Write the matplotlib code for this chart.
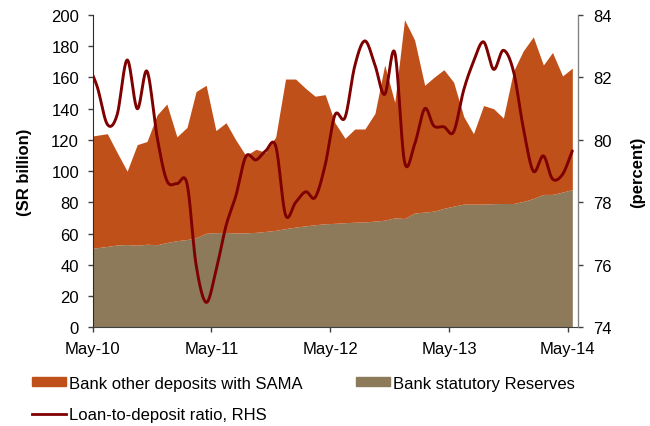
import numpy as np
import pandas as pd
import matplotlib
matplotlib.use("Agg")
import matplotlib.pyplot as plt
import matplotlib.dates as mdates
from matplotlib.patches import Patch
from matplotlib.lines import Line2D

plt.rcParams['font.family'] = ['Liberation Sans', 'DejaVu Sans']

# monthly observations, Apr-10 .. May-14 (plotted mid-month)
months = pd.date_range('2010-04-01', periods=50, freq='MS') + pd.Timedelta(days=14)

# SR billion
statutory_reserves = [50.3, 51.0, 51.8, 52.7, 53.0, 52.6, 53.2, 52.9, 54.3, 55.5,
                      56.2, 57.5, 60.2, 60.6, 60.7, 60.4, 60.5, 60.8, 61.4, 62.1,
                      63.2, 64.2, 65.0, 65.7, 66.3, 66.6, 67.0, 67.3, 67.5, 68.0,
                      68.6, 70.1, 69.7, 73.2, 73.8, 74.4, 76.2, 77.6, 78.9, 78.9,
                      78.9, 79.2, 79.3, 79.3, 80.6, 82.5, 85.1, 85.1, 86.6, 88.2]
other_deposits = [71.7, 72.0, 72.2, 59.3, 47.0, 64.4, 65.8, 83.1, 88.7, 66.5,
                  71.8, 93.5, 94.8, 65.4, 70.3, 59.6, 49.5, 53.2, 50.6, 59.9,
                  95.8, 94.8, 88.0, 82.3, 82.7, 64.4, 54.0, 59.7, 59.5, 69.0,
                  99.4, 73.9, 127.3, 110.8, 81.2, 85.6, 88.8, 79.4, 56.1, 45.1,
                  63.1, 60.8, 54.7, 84.7, 96.4, 103.5, 82.9, 90.9, 74.4, 77.8]
# percent, RHS
loan_to_deposit = [82.45, 81.7, 80.5, 80.8, 82.56, 81.0, 82.2, 80.1, 78.7, 78.6,
                   78.6, 76.0, 74.8, 75.8, 77.25, 78.2, 79.47, 79.36, 79.65, 79.8,
                   77.6, 78.0, 78.34, 78.16, 79.2, 80.8, 80.72, 82.37, 83.17, 82.4,
                   81.46, 82.8, 79.3, 79.86, 81.0, 80.45, 80.42, 80.26, 81.6, 82.5,
                   83.14, 82.26, 82.87, 82.2, 80.4, 79.0, 79.49, 78.75, 78.9, 79.65]

C_OTHER = '#C0501A'
C_RES = '#8C7A5A'
C_LINE = '#7F0000'
FS = 12


def smooth(x, y, steps=20):
    # Catmull-Rom curve through the points (like a "smoothed line" option)
    x = np.asarray(x, float)
    y = np.asarray(y, float)
    t = np.linspace(0, 1, steps, endpoint=False)[:, None]
    res_xy = []
    for p in (x, y):
        p = np.concatenate([[2 * p[0] - p[1]], p, [2 * p[-1] - p[-2]]])
        p0, p1, p2, p3 = p[:-3], p[1:-2], p[2:-1], p[3:]
        seg = 0.5 * (2 * p1 + (-p0 + p2) * t + (2 * p0 - 5 * p1 + 4 * p2 - p3) * t ** 2
                     + (-p0 + 3 * p1 - 3 * p2 + p3) * t ** 3)
        res_xy.append(np.concatenate([seg.T.ravel(), [p[-2]]]))
    return res_xy


xn = mdates.date2num(months)
res = np.array(statutory_reserves)
total = res + np.array(other_deposits)

fig = plt.figure(figsize=(6.5, 4.27), dpi=100)
ax = fig.add_axes([0.1426, 0.2311, 0.7464, 0.7314])

ax.fill_between(xn, 0, res, color=C_RES, lw=0)
ax.fill_between(xn, res, total, color=C_OTHER, lw=0)
ax.set_ylim(0, 200)
ax.set_yticks(np.arange(0, 201, 20))
ax.set_xlim(mdates.date2num(pd.Timestamp('2010-05-01')),
            mdates.date2num(pd.Timestamp('2014-06-01')))
ax.xaxis.set_major_locator(mdates.MonthLocator(bymonth=5))
ax.xaxis.set_major_formatter(mdates.DateFormatter('%b-%y'))
ax.set_ylabel('(SR billion)', fontsize=FS, fontweight='bold')
ax.yaxis.set_label_coords(-0.125, 0.5)

ax2 = ax.twinx()
sx, sy = smooth(xn, loan_to_deposit)
ax2.plot(sx, sy, color=C_LINE, lw=2.1, solid_capstyle='round')
ax2.set_ylim(74, 84)
ax2.set_yticks(np.arange(74, 85, 2))
ax2.set_xlim(ax.get_xlim())
ax2.set_ylabel('(percent)', fontsize=FS, fontweight='bold')
ax2.yaxis.set_label_coords(1.107, 0.5)

for a in (ax, ax2):
    a.spines['top'].set_visible(False)
    a.tick_params(labelsize=FS, length=3.6, width=1, colors='#404040', labelcolor='black')
ax.spines['left'].set_color('#2b2b2b')
ax.spines['bottom'].set_color('#404040')
ax2.spines['right'].set_color('#808080')
ax2.spines['left'].set_visible(False)
ax2.spines['bottom'].set_visible(False)
ax.tick_params(axis='y', pad=6.2)
ax.tick_params(axis='x', pad=6)
ax2.tick_params(axis='y', pad=7.7)

handles = [Patch(color=C_OTHER), Line2D([], [], color=C_LINE, lw=2.0), Patch(color=C_RES)]
labels = ['Bank other deposits with SAMA', 'Loan-to-deposit ratio, RHS', 'Bank statutory Reserves']
fig.legend(handles, labels, ncol=2, loc='upper left', bbox_to_anchor=(0.0488, 0.118),
           frameon=False, fontsize=FS, handlelength=2.03, handleheight=0.48,
           handletextpad=0.2, labelspacing=1.0, columnspacing=3.2, borderpad=0,
           borderaxespad=0)

fig.savefig('out.png', dpi=100)
